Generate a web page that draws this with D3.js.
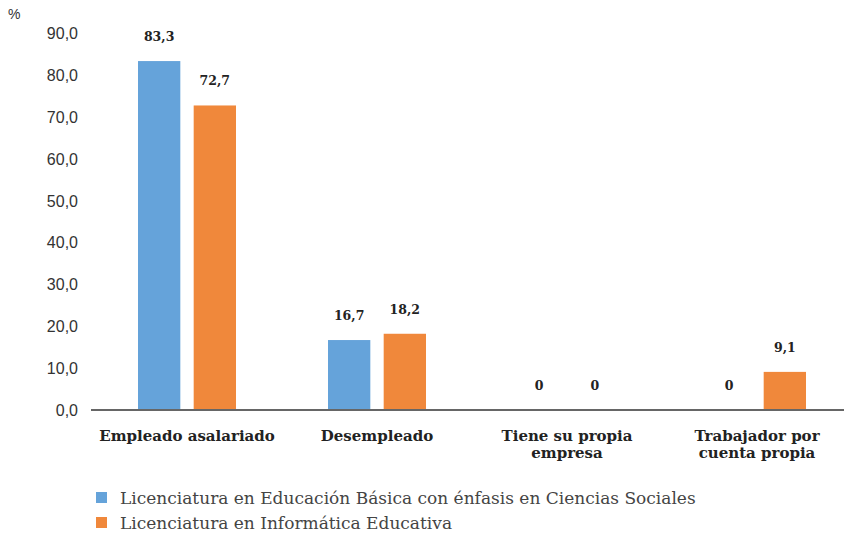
<!DOCTYPE html>
<html><head><meta charset="utf-8">
<script src="https://cdn.jsdelivr.net/npm/d3@7"></script>
<style>body{margin:0;background:#fff}</style>
</head><body>
<svg id="c" width="844" height="540"></svg>
<script>
const categories = [["Empleado asalariado"],["Desempleado"],["Tiene su propia","empresa"],["Trabajador por","cuenta propia"]];
const seriesNames = ["Licenciatura en Educación Básica con énfasis en Ciencias Sociales","Licenciatura en Informática Educativa"];
const seriesA = [83.3, 16.7, 0, 0];
const seriesB = [72.7, 18.2, 0, 9.1];
const labelsA = ["83,3","16,7","0","0"];
const labelsB = ["72,7","18,2","0","9,1"];
const yTicks = [0,10,20,30,40,50,60,70,80,90];
const colors = ["#65a3da","#f0883b"];

const svg = d3.select("#c");
const x = d3.scaleBand().domain(d3.range(categories.length)).range([92,852]);
const y = d3.scaleLinear().domain([0,90]).range([410,33]);
const sub = d3.scaleBand().domain([0,1]).range([-49,49]).paddingInner(0.24);

// y labels
svg.append("g").selectAll("text").data(yTicks).join("text")
  .attr("x",78).attr("y",d=>y(d)+6).attr("text-anchor","end")
  .attr("font-family","Liberation Sans, Arial").attr("font-size",16).attr("fill","#333")
  .text(d=>d.toFixed(1).replace(".",","));
svg.append("text").attr("x",8).attr("y",19).attr("font-family","Liberation Sans, Arial")
  .attr("font-size",14).attr("fill","#333").text("%");

const series = [seriesA, seriesB];
const labels = [labelsA, labelsB];
series.forEach((s,si)=>{
  const g = svg.append("g");
  g.selectAll("rect").data(s).join("rect")
    .attr("x",(d,i)=>x(i)+x.bandwidth()/2+sub(si))
    .attr("width",sub.bandwidth())
    .attr("y",d=>y(d)).attr("height",d=>y(0)-y(d))
    .attr("fill",colors[si]);
  g.selectAll("text").data(s).join("text")
    .attr("x",(d,i)=>x(i)+x.bandwidth()/2+sub(si)+sub.bandwidth()/2)
    .attr("y",d=>y(d)-20)
    .attr("text-anchor","middle").attr("font-family","DejaVu Serif").attr("font-weight","bold")
    .attr("font-size",12.5).attr("fill","#222")
    .text((d,i)=>labels[si][i]);
});

// axis line
svg.append("line").attr("x1",91).attr("x2",844).attr("y1",y(0)).attr("y2",y(0))
  .attr("stroke","#666").attr("stroke-width",2);

// category labels
categories.forEach((lines,i)=>{
  const t = svg.append("text").attr("text-anchor","middle")
    .attr("font-family","DejaVu Serif").attr("font-weight","bold").attr("font-size",15).attr("fill","#222");
  lines.forEach((l,j)=>t.append("tspan").attr("x",x(i)+x.bandwidth()/2).attr("y",441+j*17).text(l));
});

// legend
const lg = svg.append("g");
seriesNames.forEach((n,i)=>{
  lg.append("rect").attr("x",96).attr("y",492+i*25).attr("width",11).attr("height",11).attr("fill",colors[i]);
  lg.append("text").attr("x",120).attr("y",504+i*25).attr("font-family","DejaVu Serif, serif")
    .attr("font-size",17).attr("fill","#444").attr("textLength",null).text(n);
});
</script>
</body></html>
